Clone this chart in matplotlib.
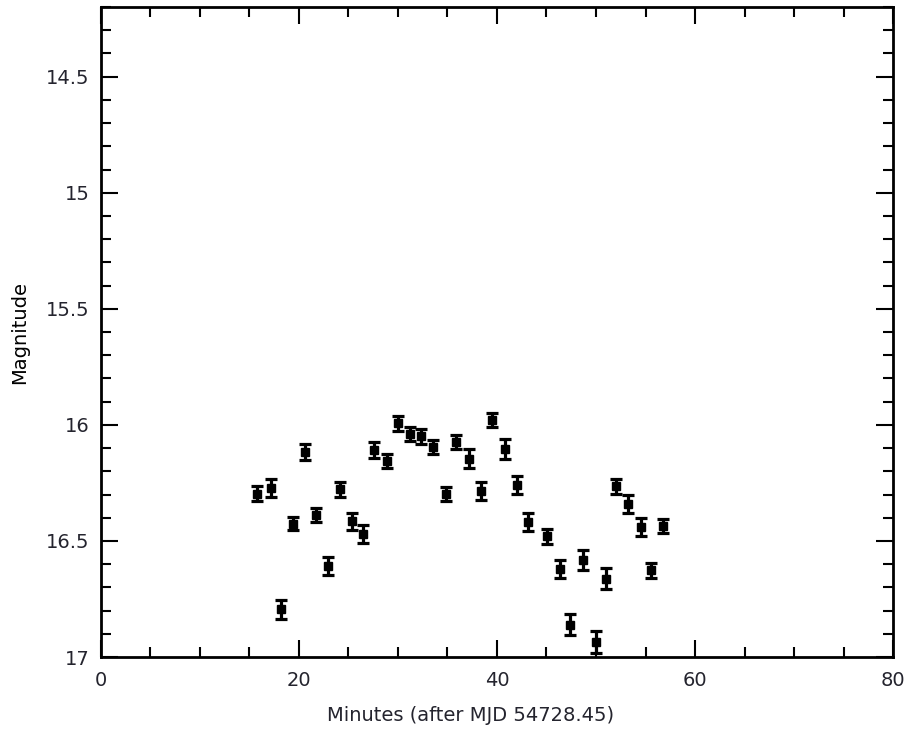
import matplotlib
matplotlib.use("Agg")
import matplotlib.pyplot as plt
from matplotlib.ticker import MultipleLocator

# light curve: time (minutes after MJD 54728.45), magnitude and 1-sigma error
minutes = [15.72, 17.13, 18.14, 19.42, 20.60, 21.68, 22.89, 24.13, 25.31, 26.48,
           27.60, 28.85, 30.02, 31.20, 32.31, 33.55, 34.83, 35.91, 37.16, 38.34,
           39.45, 40.79, 42.05, 43.14, 45.06, 46.34, 47.35, 48.70, 49.98, 50.99,
           52.07, 53.24, 54.52, 55.60, 56.78]
magnitude = [16.296, 16.272, 16.795, 16.425, 16.117, 16.387, 16.608, 16.278, 16.416, 16.469,
             16.107, 16.157, 15.994, 16.038, 16.049, 16.095, 16.296, 16.074, 16.145, 16.285,
             15.980, 16.102, 16.260, 16.419, 16.480, 16.619, 16.861, 16.584, 16.936, 16.662,
             16.265, 16.339, 16.440, 16.627, 16.437]
mag_err = [0.034, 0.037, 0.042, 0.028, 0.034, 0.030, 0.040, 0.032, 0.037, 0.039,
           0.035, 0.030, 0.031, 0.030, 0.032, 0.032, 0.030, 0.032, 0.039, 0.038,
           0.031, 0.043, 0.038, 0.038, 0.031, 0.039, 0.045, 0.043, 0.046, 0.045,
           0.032, 0.039, 0.039, 0.034, 0.030]

text_col = "#24242e"

fig = plt.figure(figsize=(9.12, 7.31), dpi=100)
ax = fig.add_axes([0.1107, 0.1012, 0.8685, 0.8892])

ax.errorbar(minutes, magnitude, yerr=mag_err, fmt="s", color="black",
            markersize=5.5, elinewidth=2.3, capsize=4.5, capthick=2.3)

ax.set_xlim(0, 80)
ax.set_ylim(17, 14.2)

ax.xaxis.set_major_locator(MultipleLocator(20))
ax.xaxis.set_minor_locator(MultipleLocator(5))
ax.yaxis.set_minor_locator(MultipleLocator(0.1))
ax.set_yticks([14.5, 15, 15.5, 16, 16.5, 17])
ax.set_yticklabels(["14.5", "15", "15.5", "16", "16.5", "17"])

for s in ax.spines.values():
    s.set_linewidth(2)

ax.tick_params(which="both", direction="in", top=True, right=True,
               width=1.5, colors="black", labelcolor=text_col, labelsize=14)
ax.tick_params(which="major", length=12)
ax.tick_params(which="minor", length=7)
ax.tick_params(axis="x", pad=10)
ax.tick_params(axis="y", pad=8)

ax.set_xlabel("Minutes (after MJD 54728.45)", fontsize=14, color=text_col)
ax.xaxis.set_label_coords(0.467, -0.075)
ax.set_ylabel("Magnitude", fontsize=14, color="black", va="center")
ax.yaxis.set_label_coords(-0.103, 0.5)

fig.savefig("out.png", dpi=100)
